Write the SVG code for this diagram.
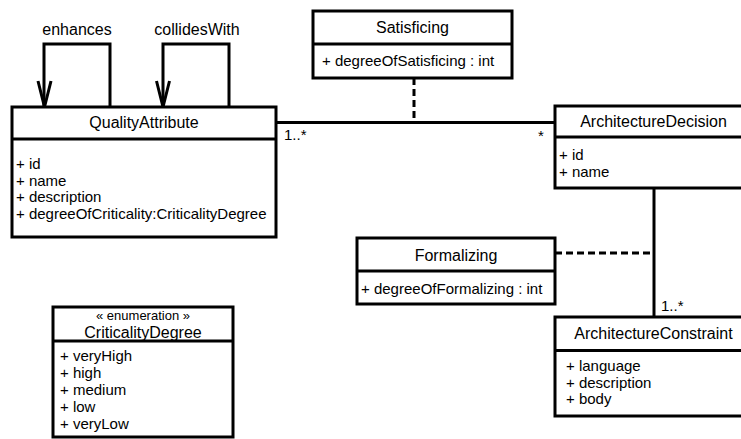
<svg xmlns="http://www.w3.org/2000/svg" width="741" height="439" viewBox="0 0 741 439">
<style>
.box{fill:#fff;stroke:#000;stroke-width:3}
.div{stroke:#000;stroke-width:3}
.ln{fill:none;stroke:#000;stroke-width:3}
.dash{fill:none;stroke:#000;stroke-width:3;stroke-dasharray:7,4}
text{font-family:"Liberation Sans",Arial,sans-serif;fill:#000}
.t{font-size:16px;text-anchor:middle}
.a{font-size:15px}
.st{font-size:13px;text-anchor:middle}
.lb{font-size:16px;text-anchor:middle}
.m{font-size:15px}
</style>
<rect width="741" height="439" fill="#fff"/>
<g id="connectors">
<path class="ln" d="M110,107 V44 H44 V107"/>
<path class="ln" d="M38,81 L44.5,107 L51,81"/>
<path class="ln" d="M229,107 V44 H163 V107"/>
<path class="ln" d="M156.5,81 L163,107 L169.5,81"/>
<text class="lb" x="77" y="35">enhances</text>
<text class="lb" x="197" y="35">collidesWith</text>
<line class="ln" x1="276" y1="122.5" x2="555" y2="122.5"/>
<text class="m" x="284" y="140">1..*</text>
<text class="m" x="538" y="141">*</text>
<line class="dash" x1="414" y1="78" x2="414" y2="121"/>
<line class="ln" x1="654" y1="188" x2="654" y2="317"/>
<text class="m" x="661" y="311">1..*</text>
<line class="dash" x1="555" y1="253" x2="653" y2="253"/>
</g>
<g id="QualityAttribute">
<rect class="box" x="12" y="107" width="264" height="130"/>
<line class="div" x1="12" y1="139" x2="276" y2="139"/>
<text class="t" x="144" y="128">QualityAttribute</text>
<text class="a" x="16" y="169">+ id</text>
<text class="a" x="16" y="185.7">+ name</text>
<text class="a" x="16" y="202.3">+ description</text>
<text class="a" x="16" y="219">+ degreeOfCriticality:CriticalityDegree</text>
</g>
<g id="Satisficing">
<rect class="box" x="313" y="11" width="199" height="67"/>
<line class="div" x1="313" y1="44" x2="512" y2="44"/>
<text class="t" x="412.5" y="33">Satisficing</text>
<text class="a" x="322" y="66">+ degreeOfSatisficing : int</text>
</g>
<g id="ArchitectureDecision">
<rect class="box" x="555" y="106" width="197" height="82"/>
<line class="div" x1="555" y1="137" x2="752" y2="137"/>
<text class="t" x="653.5" y="127">ArchitectureDecision</text>
<text class="a" x="559" y="160">+ id</text>
<text class="a" x="559" y="177">+ name</text>
</g>
<g id="Formalizing">
<rect class="box" x="357" y="238" width="198" height="66"/>
<line class="div" x1="357" y1="271" x2="555" y2="271"/>
<text class="t" x="456" y="260.5">Formalizing</text>
<text class="a" x="361" y="294">+ degreeOfFormalizing : int</text>
</g>
<g id="ArchitectureConstraint">
<rect class="box" x="555" y="317" width="197" height="99"/>
<line class="div" x1="555" y1="350.5" x2="752" y2="350.5"/>
<text class="t" x="653.5" y="339">ArchitectureConstraint</text>
<text class="a" x="566" y="371">+ language</text>
<text class="a" x="566" y="387.5">+ description</text>
<text class="a" x="566" y="404">+ body</text>
</g>
<g id="CriticalityDegree">
<rect class="box" x="53" y="307" width="180" height="130"/>
<line class="div" x1="53" y1="341" x2="233" y2="341"/>
<text class="st" x="143" y="319.5">« enumeration »</text>
<text class="t" x="143" y="338">CriticalityDegree</text>
<text class="a" x="60" y="361">+ veryHigh</text>
<text class="a" x="60" y="378">+ high</text>
<text class="a" x="60" y="395">+ medium</text>
<text class="a" x="60" y="412">+ low</text>
<text class="a" x="60" y="429">+ veryLow</text>
</g>
</svg>
